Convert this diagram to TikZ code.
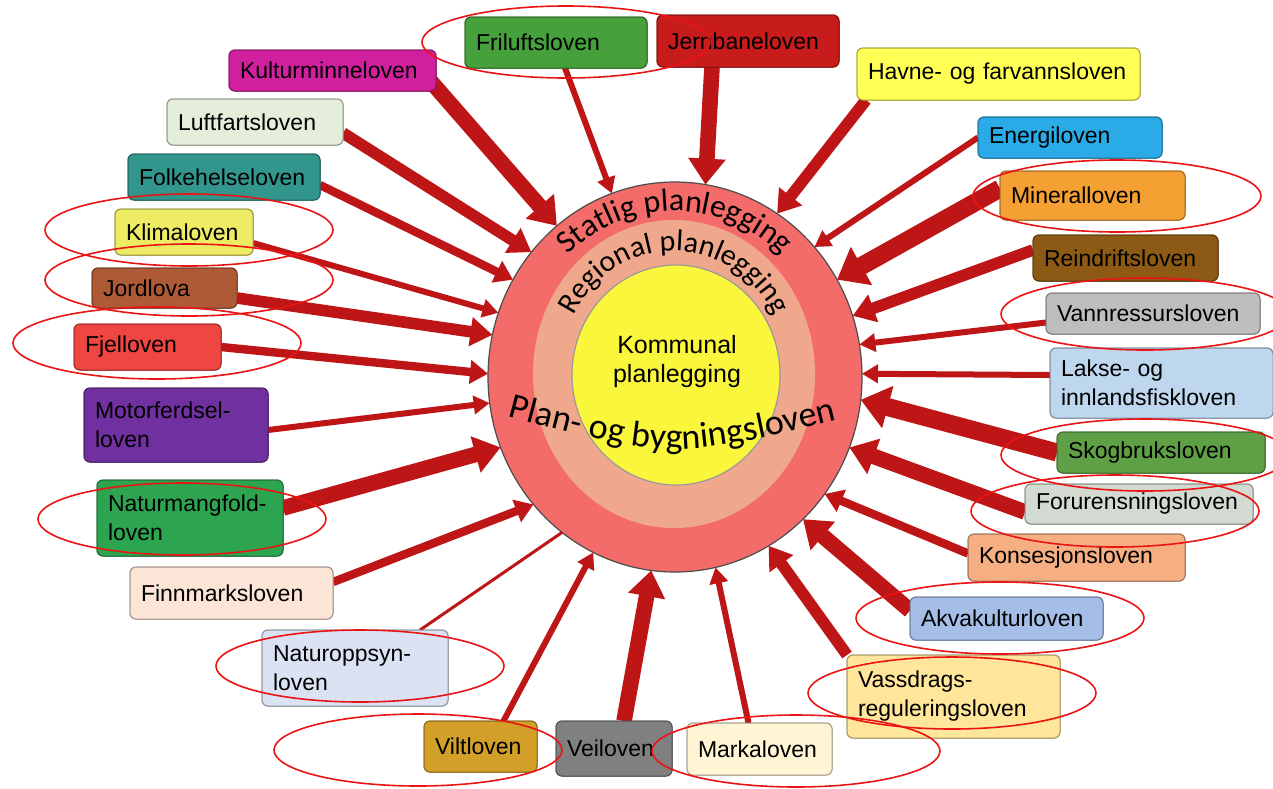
\documentclass[tikz,border=0pt]{standalone}
\usepackage{fontspec}
\setmainfont{Liberation Sans}
\newfontfamily\calib{Carlito}
\usetikzlibrary{arrows.meta,shapes.geometric,decorations.text}

\definecolor{arrred}{RGB}{190,22,22}
\definecolor{annored}{RGB}{235,20,20}
\definecolor{ringout}{RGB}{243,108,106}
\definecolor{ringmid}{RGB}{240,168,140}
\definecolor{ringin}{RGB}{250,246,60}
\definecolor{cFri}{RGB}{70,160,60}
\definecolor{cJern}{RGB}{200,28,28}
\definecolor{cKult}{RGB}{208,32,158}
\definecolor{cHavne}{RGB}{255,255,85}
\definecolor{cLuft}{RGB}{228,238,218}
\definecolor{cEnergi}{RGB}{42,170,230}
\definecolor{cFolke}{RGB}{50,150,140}
\definecolor{cMin}{RGB}{245,160,50}
\definecolor{cKlima}{RGB}{238,235,100}
\definecolor{cRein}{RGB}{140,90,20}
\definecolor{cJord}{RGB}{175,90,55}
\definecolor{cVann}{RGB}{190,190,190}
\definecolor{cFjell}{RGB}{240,70,65}
\definecolor{cLakse}{RGB}{190,215,238}
\definecolor{cMotor}{RGB}{112,48,160}
\definecolor{cSkog}{RGB}{95,160,70}
\definecolor{cNatur}{RGB}{45,165,80}
\definecolor{cForur}{RGB}{210,218,210}
\definecolor{cKons}{RGB}{245,175,130}
\definecolor{cFinn}{RGB}{252,228,214}
\definecolor{cAkva}{RGB}{165,190,232}
\definecolor{cNopp}{RGB}{218,226,243}
\definecolor{cVass}{RGB}{255,230,155}
\definecolor{cVilt}{RGB}{210,160,40}
\definecolor{cVei}{RGB}{128,128,128}
\definecolor{cMarka}{RGB}{255,244,212}

\newcommand{\boxfont}{\fontsize{11.5}{14.5}\selectfont}
\newcommand{\statfont}{\calib\fontsize{16}{19}\selectfont}
\newcommand{\regfont}{\calib\fontsize{15}{17}\selectfont}
\newcommand{\planfont}{\calib\fontsize{18}{20}\selectfont}
\newcommand{\komfont}{\fontsize{12.5}{14.5}\selectfont}

\newcommand{\lawbox}[7]{%
  \pgfmathsetmacro{\lbw}{(#4-#2)*0.5-11}%
  \pgfmathsetmacro{\lbh}{(#5-#3)*0.5}%
  \node[law, fill=#6, draw=#6!65!black, text width=\lbw pt, minimum height=\lbh pt]
    (#1) at ({(#2+#4)/2},{(#3+#5)/2}) {#7};%
}
\newcommand{\allboxes}{%
\lawbox{fri}{465}{17}{647}{68}{cFri}{Friluftsloven}
\lawbox{jern}{657}{15}{839}{67}{cJern}{Jernbaneloven}
\lawbox{kultur}{229}{50}{436}{91}{cKult}{Kulturminneloven}
\lawbox{havne}{857}{48}{1140}{100}{cHavne}{\mbox{Havne- og farvannsloven}}
\lawbox{luft}{167}{99}{343}{145}{cLuft}{Luftfartsloven}
\lawbox{energi}{978}{117}{1162}{158}{cEnergi}{Energiloven}
\lawbox{folke}{128}{154}{320}{200}{cFolke}{Folkehelseloven}
\lawbox{mineral}{1000}{171}{1185}{220}{cMin}{Mineralloven}
\lawbox{klima}{115}{209}{253}{255}{cKlima}{Klimaloven}
\lawbox{rein}{1033}{235}{1218}{281}{cRein}{Reindriftsloven}
\lawbox{jord}{92}{268}{237}{308}{cJord}{Jordlova}
\lawbox{vann}{1046}{293}{1260}{334}{cVann}{Vannressursloven}
\lawbox{fjell}{74}{324}{221}{370}{cFjell}{Fjelloven}
\lawbox{lakse}{1050}{348}{1273}{418}{cLakse}{\mbox{Lakse- og}\\innlandsfiskloven}
\lawbox{motor}{84}{388}{268}{462}{cMotor}{Motorferdsel-\\loven}
\lawbox{skog}{1057}{432}{1265}{473}{cSkog}{Skogbruksloven}
\lawbox{natur}{97}{480}{283}{556}{cNatur}{Naturmangfold-\\loven}
\lawbox{forur}{1025}{484}{1253}{524}{cForur}{Forurensningsloven}
\lawbox{kons}{968}{534}{1185}{581}{cKons}{Konsesjonsloven}
\lawbox{finn}{130}{567}{333}{619}{cFinn}{Finnmarksloven}
\lawbox{akva}{910}{597}{1103}{640}{cAkva}{Akvakulturloven}
\lawbox{nopp}{262}{630}{448}{706}{cNopp}{Naturoppsyn-\\loven}
\lawbox{vass}{847}{655}{1060}{738}{cVass}{Vassdrags-\\reguleringsloven}
\lawbox{vilt}{424}{721}{537}{772}{cVilt}{Viltloven}
\lawbox{vei}{556}{721}{672}{776}{cVei}{Veiloven}
\lawbox{marka}{687}{723}{832}{775}{cMarka}{Markaloven}
}

\tikzset{
  law/.style={rounded corners=3pt, inner xsep=5.5pt, inner ysep=1pt, outer sep=0pt,
    align=left, font=\boxfont, line width=0.5pt},
  arrbase/.style={draw=arrred},
  arrT/.style={arrbase, line width=3pt, -{Triangle[width=9pt,length=8pt]}},
  arrS/.style={arrbase, line width=4.2pt, -{Triangle[width=11.5pt,length=9pt]}},
  arrM/.style={arrbase, line width=5.8pt, -{Triangle[width=14pt,length=11pt]}},
  arrL/.style={arrbase, line width=7.8pt, -{Triangle[width=18pt,length=13pt]}},
  arrX/.style={arrbase, line width=9pt, -{Triangle[width=21pt,length=14pt]}},
  arrN/.style={arrbase, line width=1.5pt},
  anno/.style={draw=annored, line width=0.8pt},
}

\begin{document}
\begin{tikzpicture}[x=0.5pt,y=-0.5pt]
\useasboundingbox (0,0) rectangle (1273,788);
\fill[white] (0,0) rectangle (1273,788);

% rings
\node[ellipse, fill=ringout, draw=black!70, line width=0.6pt, minimum width=187pt,
  minimum height=195pt, inner sep=0pt, outer sep=0pt] (stat) at (675,377) {};
\node[ellipse, fill=ringmid, minimum width=141pt, minimum height=154pt,
  inner sep=0pt, outer sep=0pt] (reg) at (674,374) {};
\node[ellipse, fill=ringin, draw=black!40, line width=0.6pt, minimum width=104pt,
  minimum height=110pt, inner sep=0pt, outer sep=0pt] (kom) at (676,375) {};

% ring texts (scopes with y pointing up for arcs)
\begin{scope}[shift={(675,377)}, x=0.5pt, y=0.5pt]
\path[decorate, decoration={text along path, text={|\statfont|Statlig planlegging}, text align=center}]
  (160:158 and 166) arc[start angle=160, end angle=20, x radius=158, y radius=166];
\end{scope}
\begin{scope}[shift={(674,374)}, x=0.5pt, y=0.5pt]
\path[decorate, decoration={text along path, text={|\regfont|Regional planlegging}, text align=center}]
  (165:114 and 123) arc[start angle=165, end angle=15, x radius=114, y radius=123];
\end{scope}
\node[align=center, font=\komfont, inner sep=0pt] (komtxt) at (677,362) {Kommunal\\planlegging};
\path[decorate, decoration={text along path, text={|\planfont|Plan- og bygningsloven}, text align=center}]
  (498,414) .. controls (672,460) .. (847,418);

% boxes (first pass, defines the names)
\allboxes

% arrows
\draw[arrT] ([xshift=4.5pt]fri.south) -- (stat.109);
\draw[arrL] ([xshift=-18pt]jern.south) -- (stat.81);
\draw[arrL] ([shift={(-3pt,-5pt)}]kultur.east) -- (stat.128);
\draw[arrM] ([xshift=4.5pt]havne.south west) -- (stat.58);
\draw[arrM] ([yshift=-5.5pt]luft.east) -- (stat.139);
\draw[arrT] (energi.west) -- (stat.43);
\draw[arrS] ([yshift=-4pt]folke.east) -- (stat.149);
\draw[arrX] ([yshift=3.5pt]mineral.west) -- (stat.31);
\draw[arrT] ([yshift=-5.5pt]klima.east) -- (stat.160);
\draw[arrM] ([yshift=4pt]rein.west) -- (stat.19);
\draw[arrM] ([yshift=-5pt]jord.east) -- (stat.167);
\draw[arrT] ([yshift=-4.5pt]vann.west) -- (stat.10);
\draw[arrS] (fjell.east) -- (stat.179);
\draw[arrT] ([yshift=4pt]lakse.west) -- (stat.1);
\draw[arrT] ([yshift=-2.5pt]motor.east) -- (stat.188);
\draw[arrX] (skog.west) -- (stat.353);
\draw[arrL] ([yshift=5pt]natur.east) -- (stat.202);
\draw[arrL] ([yshift=-4pt]forur.west) -- (stat.338);
\draw[arrS] ([yshift=5.5pt]finn.east) -- (stat.222);
\draw[arrS] ([yshift=2pt]kons.west) -- (stat.322);
\draw[arrN] ([xshift=32.5pt]nopp.north) -- (stat.234);
\draw[arrL] ([yshift=4pt]akva.west) -- (stat.312);
\draw[arrT] ([xshift=11.5pt]vilt.north) -- (stat.245);
\draw[arrM] (vass.north west) -- (stat.299);
\draw[arrL] ([xshift=5pt]vei.north) -- (stat.263);
\draw[arrT] ([xshift=-5.5pt]marka.north) -- (stat.282);

% boxes again, on top of the arrow tails
\allboxes

% red annotation ellipses
\foreach \ex/\ey in {566/42, 189/230, 189/280, 157/343, 1117/196, 1145/314, 1145/455,
  1115/511, 1000/618, 952/693, 796/751, 418/750, 360/666, 182/519}
  \draw[anno] (\ex,\ey) ellipse [x radius=144, y radius=36];
\end{tikzpicture}
\end{document}
